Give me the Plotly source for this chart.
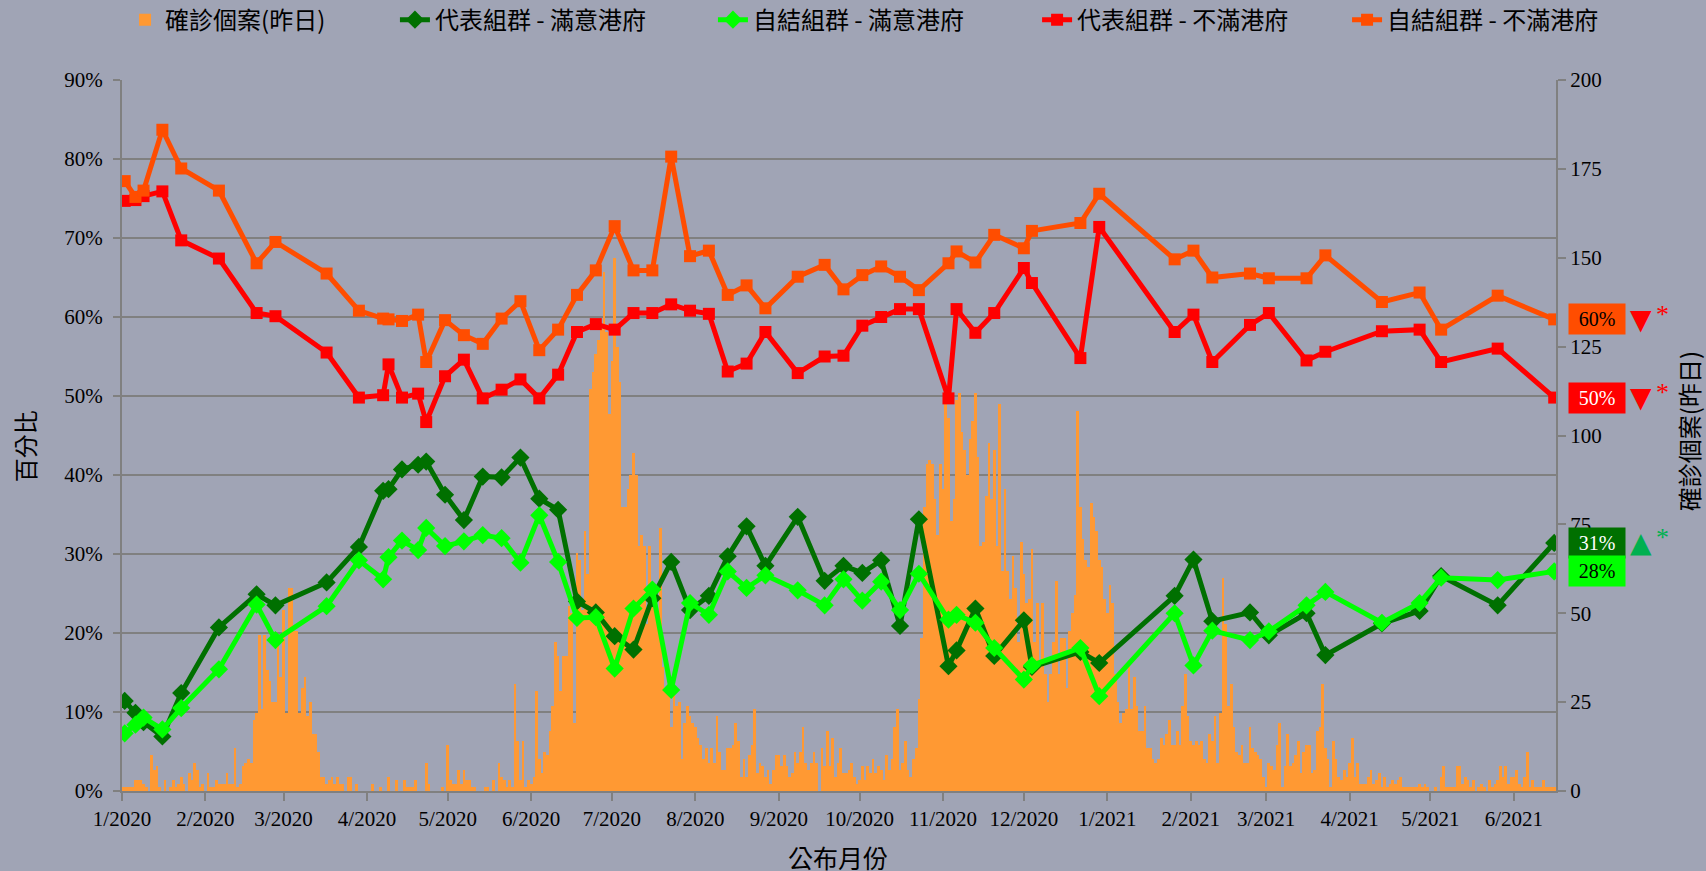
import plotly.graph_objects as go
import pandas as pd

# ---------------- survey data (percent) ----------------
survey_dates = [
    "2020-01-02", "2020-01-06", "2020-01-09", "2020-01-16", "2020-01-23", "2020-02-06",
    "2020-02-20", "2020-02-27", "2020-03-17", "2020-03-29", "2020-04-07", "2020-04-09",
    "2020-04-14", "2020-04-20", "2020-04-23", "2020-04-30", "2020-05-07", "2020-05-14",
    "2020-05-21", "2020-05-28", "2020-06-04", "2020-06-11", "2020-06-18", "2020-06-25",
    "2020-07-02", "2020-07-09", "2020-07-16", "2020-07-23", "2020-07-30", "2020-08-06",
    "2020-08-13", "2020-08-20", "2020-08-27", "2020-09-08", "2020-09-18", "2020-09-25",
    "2020-10-02", "2020-10-09", "2020-10-16", "2020-10-23", "2020-11-03", "2020-11-06",
    "2020-11-13", "2020-11-20", "2020-12-01", "2020-12-04", "2020-12-22", "2020-12-29",
    "2021-01-26", "2021-02-02", "2021-02-09", "2021-02-23", "2021-03-02", "2021-03-16",
    "2021-03-23", "2021-04-13", "2021-04-27", "2021-05-05", "2021-05-26", "2021-06-16",
]

rep_satisfied = [
    11.4, 9.9, 8.7, 6.9, 12.4, 20.7, 24.9, 23.5, 26.4, 30.9,
    38.0, 38.2, 40.7, 41.3, 41.7, 37.5, 34.3, 39.8, 39.7, 42.2,
    37.0, 35.6, 24.0, 22.6, 19.6, 17.9, 24.4, 29.0, 22.9, 24.7,
    29.7, 33.5, 28.5, 34.7, 26.6, 28.5, 27.6, 29.2, 20.9, 34.4,
    15.8, 17.8, 23.1, 17.1, 21.6, 15.7, 17.6, 16.2, 24.7, 29.3,
    21.5, 22.6, 19.7, 22.5, 17.2, 21.2, 22.8, 27.2, 23.5, 31.4,
]
self_satisfied = [
    7.3, 8.4, 9.3, 7.8, 10.5, 15.4, 23.6, 19.1, 23.4, 29.2,
    26.8, 29.6, 31.7, 30.5, 33.3, 31.0, 31.6, 32.4, 32.0, 28.9,
    34.9, 29.0, 21.9, 22.0, 15.5, 23.1, 25.5, 12.8, 23.8, 22.3,
    27.8, 25.7, 27.3, 25.4, 23.5, 26.8, 24.1, 26.5, 22.9, 27.5,
    21.7, 22.3, 21.3, 18.1, 14.1, 15.9, 18.1, 12.0, 22.5, 15.9,
    20.3, 19.1, 20.2, 23.5, 25.2, 21.3, 23.8, 27.0, 26.7, 27.8,
]
rep_dissatisfied = [
    74.7, 74.8, 75.3, 75.9, 69.7, 67.4, 60.5, 60.1, 55.5, 49.8,
    50.1, 54.0, 49.8, 50.3, 46.7, 52.5, 54.6, 49.7, 50.8, 52.1,
    49.7, 52.7, 58.1, 59.1, 58.4, 60.5, 60.5, 61.6, 60.8, 60.4,
    53.1, 54.1, 58.1, 52.9, 55.0, 55.1, 58.9, 60.0, 61.0, 61.0,
    49.7, 61.0, 58.0, 60.5, 66.2, 64.3, 54.8, 71.4, 58.1, 60.3,
    54.3, 59.0, 60.5, 54.5, 55.6, 58.2, 58.4, 54.3, 56.0, 49.8,
]
self_dissatisfied = [
    77.2, 75.2, 76.0, 83.7, 78.8, 76.0, 66.8, 69.5, 65.5, 60.8,
    59.8, 59.7, 59.5, 60.3, 54.3, 59.6, 57.7, 56.6, 59.8, 62.0,
    55.8, 58.4, 62.8, 65.9, 71.5, 65.9, 65.9, 80.3, 67.7, 68.4,
    62.8, 64.0, 61.1, 65.1, 66.6, 63.5, 65.3, 66.4, 65.1, 63.4,
    66.8, 68.3, 66.9, 70.4, 68.7, 70.9, 71.9, 75.6, 67.3, 68.4,
    65.0, 65.5, 64.9, 64.9, 67.8, 61.9, 63.1, 58.4, 62.7, 59.7,
]

# ---------------- daily confirmed cases, one list per month ----------------
cases_2020_01 = [1, 1, 1, 1, 1, 3, 3, 3, 2, 1, 0, 10, 6, 7, 1, 0, 3, 0, 1, 3, 1, 2, 4, 2, 0, 5, 3, 8, 6, 1, 2]
cases_2020_02 = [0, 5, 1, 1, 3, 2, 2, 2, 5, 2, 2, 12, 1, 2, 7, 8, 9, 8, 20, 22, 44, 23, 44, 34, 31, 25, 25, 43, 32]
cases_2020_03 = [51, 22, 57, 57, 45, 45, 22, 29, 32, 21, 25, 16, 16, 11, 4, 4, 2, 3, 4, 2, 4, 2, 2, 0, 4, 4, 0, 2, 0, 0, 0]
cases_2020_04 = [0, 0, 2, 0, 0, 1, 0, 0, 4, 0, 0, 3, 0, 0, 3, 1, 1, 1, 3, 0, 0, 0, 8, 2, 0, 0, 0, 0, 1, 0]
cases_2020_05 = [13, 3, 2, 2, 6, 2, 6, 3, 3, 1, 1, 0, 0, 0, 1, 1, 0, 3, 0, 8, 4, 3, 1, 3, 1, 30, 14, 3, 14, 1, 3]
cases_2020_06 = [2, 4, 28, 9, 5, 11, 10, 17, 24, 42, 38, 28, 38, 38, 52, 50, 19, 67, 65, 51, 73, 61, 113, 118, 123, 127, 130, 146, 129, 106]
cases_2020_07 = [121, 150, 125, 115, 80, 80, 85, 89, 95, 89, 69, 72, 69, 47, 69, 56, 56, 49, 74, 35, 29, 28, 18, 27, 24, 25, 9, 19, 24, 21, 19]
cases_2020_08 = [18, 15, 13, 9, 12, 8, 12, 8, 21, 11, 6, 6, 12, 12, 13, 19, 14, 4, 9, 4, 10, 13, 23, 5, 8, 7, 4, 6, 2, 6, 10]
cases_2020_09 = [10, 7, 10, 7, 4, 5, 11, 8, 11, 18, 8, 6, 8, 11, 8, 0, 12, 7, 17, 7, 15, 4, 8, 12, 5, 5, 6, 8, 4, 2]
cases_2020_10 = [3, 7, 3, 7, 5, 9, 5, 7, 6, 3, 10, 6, 9, 18, 23, 6, 8, 14, 6, 4, 9, 12, 26, 43, 80, 92, 93, 92, 82, 72, 92]
cases_2020_11 = [85, 110, 105, 76, 82, 110, 112, 101, 96, 89, 99, 104, 112, 94, 69, 70, 83, 98, 82, 96, 69, 109, 62, 85, 62, 54, 66, 57, 42, 70]
cases_2020_12 = [61, 53, 54, 68, 42, 53, 35, 53, 33, 25, 33, 42, 59, 33, 43, 43, 29, 45, 50, 55, 107, 80, 71, 65, 63, 81, 77, 73, 65, 63, 54]
cases_2021_01 = [50, 58, 53, 33, 25, 19, 22, 23, 35, 23, 32, 24, 17, 17, 24, 12, 12, 9, 8, 9, 15, 13, 16, 20, 13, 13, 17, 13, 24, 33, 21]
cases_2021_02 = [14, 13, 14, 13, 14, 9, 8, 16, 14, 21, 8, 22, 60, 47, 24, 30, 18, 11, 10, 13, 8, 8, 18, 12, 11, 10, 9, 4]
cases_2021_03 = [1, 8, 7, 6, 13, 19, 1, 7, 16, 7, 8, 10, 14, 5, 11, 13, 13, 5, 6, 17, 18, 30, 12, 9, 1, 14, 9, 4, 3, 6, 4]
cases_2021_04 = [8, 15, 4, 8, 2, 2, 2, 4, 6, 2, 3, 5, 1, 4, 1, 2, 3, 2, 3, 4, 1, 1, 1, 1, 1, 1, 2, 1, 2, 1]
cases_2021_05 = [0, 0, 1, 0, 4, 7, 1, 1, 1, 1, 7, 7, 2, 4, 3, 1, 3, 0, 1, 2, 1, 0, 3, 1, 2, 3, 7, 4, 7, 2, 4]
cases_2021_06 = [4, 6, 2, 1, 4, 11, 1, 3, 1, 1, 1, 3, 1, 1, 1, 1]

case_months = [
    ("2020-01-01", cases_2020_01), ("2020-02-01", cases_2020_02), ("2020-03-01", cases_2020_03),
    ("2020-04-01", cases_2020_04), ("2020-05-01", cases_2020_05), ("2020-06-01", cases_2020_06),
    ("2020-07-01", cases_2020_07), ("2020-08-01", cases_2020_08), ("2020-09-01", cases_2020_09),
    ("2020-10-01", cases_2020_10), ("2020-11-01", cases_2020_11), ("2020-12-01", cases_2020_12),
    ("2021-01-01", cases_2021_01), ("2021-02-01", cases_2021_02), ("2021-03-01", cases_2021_03),
    ("2021-04-01", cases_2021_04), ("2021-05-01", cases_2021_05), ("2021-06-01", cases_2021_06),
]

case_dates, case_values = [], []
for start, vals in case_months:
    d0 = pd.Timestamp(start)
    for i, v in enumerate(vals):
        case_dates.append(d0 + pd.Timedelta(days=i))
        case_values.append(v)

# ---------------- styling ----------------
BG = "#A0A4B5"
GRID = "#808080"
CJK = "Noto Sans CJK TC"
SERIF = "Liberation Serif"

C_BAR = "#FF9933"
C_DKGREEN = "#007000"
C_GREEN = "#00FF00"
C_RED = "#FF0000"
C_ORANGE = "#FF4D00"

fig = go.Figure()
fig.add_trace(go.Bar(
    x=case_dates, y=case_values, name="確診個案(昨日)",
    marker=dict(color=C_BAR, line=dict(width=0)), yaxis="y", legend="legend",
))
line_series = [
    ("代表組群 - 滿意港府", rep_satisfied, C_DKGREEN, "diamond", 14, "legend2"),
    ("自結組群 - 滿意港府", self_satisfied, C_GREEN, "diamond", 14, "legend3"),
    ("代表組群 - 不滿港府", rep_dissatisfied, C_RED, "square", 12, "legend4"),
    ("自結組群 - 不滿港府", self_dissatisfied, C_ORANGE, "square", 12, "legend5"),
]
for name, vals, col, sym, sz, lg in line_series:
    fig.add_trace(go.Scatter(
        x=survey_dates, y=vals, name=name, mode="lines+markers",
        line=dict(color=col, width=5),
        marker=dict(symbol=sym, size=sz, color=col),
        yaxis="y2", legend=lg,
    ))

axis_font = dict(family=SERIF, size=21, color="black")


def legend_box(xpos):
    return dict(
        orientation="h", xref="container", yref="container",
        x=xpos, y=0.977, xanchor="left", yanchor="middle",
        font=dict(family=CJK, size=24, color="black"),
        bgcolor="rgba(0,0,0,0)",
    )


fig.update_layout(
    width=1706, height=871,
    paper_bgcolor=BG, plot_bgcolor=BG,
    margin=dict(l=122, r=150, t=80, b=80, autoexpand=False),
    bargap=0,
    showlegend=True,
    legend=legend_box(0.0733),
    legend2=legend_box(0.2315),
    legend3=legend_box(0.4179),
    legend4=legend_box(0.6079),
    legend5=legend_box(0.7896),
    xaxis=dict(
        type="date",
        range=["2020-01-01", "2021-06-16 16:00"],
        tick0="2020-01-01", dtick="M1", tickformat="%-m/%Y",
        ticks="outside", ticklen=8, tickwidth=2, tickcolor=GRID,
        showline=True, linecolor=GRID, linewidth=2,
        showgrid=False, zeroline=False,
        tickfont=axis_font,
    ),
    yaxis=dict(
        range=[0, 200], dtick=25, side="right",
        ticks="outside", ticklen=8, tickwidth=2, tickcolor=GRID,
        showline=True, linecolor=GRID, linewidth=2,
        showgrid=False, zeroline=False,
        tickfont=axis_font,
    ),
    yaxis2=dict(
        range=[0, 90], dtick=10, ticksuffix="%", side="left", overlaying="y",
        ticks="outside", ticklen=7, tickwidth=2, tickcolor=GRID,
        ticklabelstandoff=6,
        showline=True, linecolor=GRID, linewidth=2,
        showgrid=True, gridcolor=GRID, gridwidth=2, zeroline=False,
        tickfont=axis_font,
    ),
)

# axis titles
fig.add_annotation(text="百分比", xref="paper", yref="paper", x=-0.0683, y=0.485,
                   xanchor="center", yanchor="middle",
                   textangle=-90, showarrow=False, font=dict(family=CJK, size=24, color="black"))
fig.add_annotation(text="確診個案(昨日)", xref="paper", yref="paper", x=1.0920, y=0.506,
                   xanchor="center", yanchor="middle",
                   textangle=-90, showarrow=False, font=dict(family=CJK, size=24, color="black"))
fig.add_annotation(text="公布月份", xref="paper", yref="paper", x=0.4993, y=-0.093,
                   xanchor="center", yanchor="middle",
                   showarrow=False, font=dict(family=CJK, size=25, color="black"))

# end-value labels
end_labels = [
    (self_dissatisfied[-1], C_ORANGE, "black", "▼", C_RED),
    (rep_dissatisfied[-1], C_RED, "white", "▼", C_RED),
    (rep_satisfied[-1], C_DKGREEN, "white", "▲", "#00B050"),
    (self_satisfied[-1], C_GREEN, "black", None, None),
]
for val, bg, fg, arrow, acol in end_labels:
    fig.add_annotation(text=f"{round(val):d}%", xref="paper", yref="y2", x=1.0286, y=val,
                       xanchor="center", yanchor="middle",
                       showarrow=False, bgcolor=bg, width=56, height=30, borderpad=0,
                       font=dict(family=SERIF, size=20, color=fg))
    if arrow:
        fig.add_annotation(text=arrow, xref="paper", yref="y2", x=1.0593, y=val,
                           xanchor="center", yanchor="middle",
                           showarrow=False, font=dict(family="DejaVu Sans", size=28, color=acol))
        fig.add_annotation(text="*", xref="paper", yref="y2", x=1.0745, y=val, yshift=5,
                           xanchor="center", yanchor="middle",
                           showarrow=False, font=dict(family=SERIF, size=26, color=acol))

fig.write_html(
    "out.html",
    config={"displayModeBar": False},
    post_script="document.body.style.margin='0';document.body.style.background='#A0A4B5';",
)
